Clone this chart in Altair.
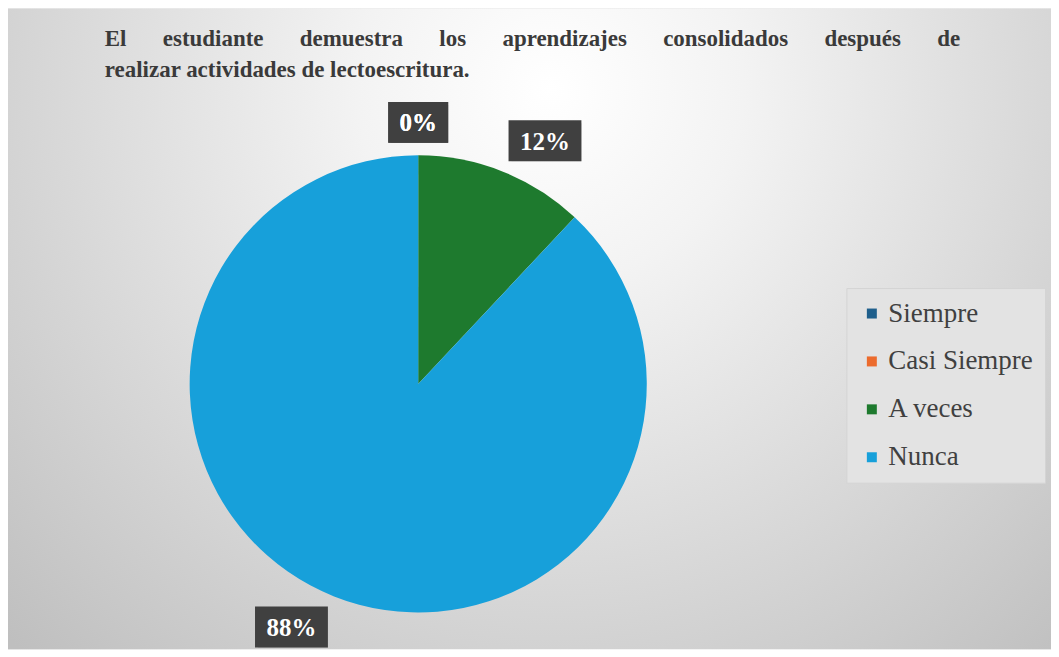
import altair as alt
import pandas as pd

# ---- data ----
categories = ["Siempre", "Casi Siempre", "A veces", "Nunca"]
values = [0, 0, 12, 88]
colors = ["#1f5f8c", "#ec6b2d", "#1e7a2e", "#17a0da"]
GAP = "\u2003\u2002\u200a"
title_words = ["El", "estudiante", "demuestra", "los", "aprendizajes", "consolidados", "después", "de"]
title_lines = [
    GAP.join(title_words),
    "realizar actividades de lectoescritura.",
]

# ---- layout ----
W, H = 1045, 642
CX, CY, R = 411, 376, 229
RX, RY = 345, 262
SERIF = "'Liberation Serif', 'Times New Roman', 'DejaVu Serif', serif"

df = pd.DataFrame({"categoria": categories, "valor": values, "orden": list(range(len(categories)))})

bg = alt.Chart(alt.Data(values=[{"k": 1}])).mark_rect(
    fill=alt.Gradient(
        gradient="radial",
        stops=[
            alt.GradientStop(offset=0, color="#ffffff"),
            alt.GradientStop(offset=0.25, color="#f3f3f3"),
            alt.GradientStop(offset=1, color="#bfbfbf"),
        ],
        x1=0.52, y1=0.27, r1=0,
        x2=0.52, y2=0.27, r2=0.74,
    )
).encode(x=alt.value(0), x2=alt.value(W), y=alt.value(0), y2=alt.value(H))

pie = alt.Chart(df).mark_arc(radius=R).encode(
    theta=alt.Theta("valor:Q", stack=True),
    color=alt.Color(
        "categoria:N",
        sort=categories,
        scale=alt.Scale(domain=categories, range=colors),
        legend=alt.Legend(
            title=None,
            orient="none",
            legendX=840,
            legendY=280,
            symbolType="square",
            symbolSize=100,
            symbolStrokeWidth=0,
            labelFont=SERIF,
            labelFontSize=27,
            labelColor="#404040",
            labelLimit=400,
            labelOffset=3,
            rowPadding=20,
            padding=12,
            fillColor="#e3e3e3",
            strokeColor="#d4d4d4",
        ),
    ),
    order=alt.Order("orden:Q"),
    x=alt.value(CX),
    y=alt.value(CY),
)

lab = alt.Chart(df).transform_joinaggregate(total="sum(valor)").transform_window(
    cum="sum(valor)", sort=[alt.SortField("orden")], frame=[None, 0]
).transform_calculate(
    mid="2*PI*(datum.cum - datum.valor/2)/datum.total"
).transform_calculate(
    lx=f"{CX} + {RX}*sin(datum.mid)",
    ly=f"{CY} - {RY}*cos(datum.mid)",
    txt="round(datum.valor/datum.total*100) + '%'",
).transform_calculate(
    bw="13*length(datum.txt) + 34"
).transform_calculate(
    bx1="datum.lx - datum.bw/2",
    bx2="datum.lx + datum.bw/2",
    by1="datum.ly - 20.5",
    by2="datum.ly + 20.5",
)

shadow = lab.mark_rect(color="#000000", opacity=0.18, xOffset=3, yOffset=3).encode(
    x=alt.X("bx1:Q", scale=None, axis=None), x2="bx2:Q",
    y=alt.Y("by1:Q", scale=None, axis=None), y2="by2:Q",
)
boxes = lab.mark_rect(color="#404040").encode(
    x=alt.X("bx1:Q", scale=None, axis=None), x2="bx2:Q",
    y=alt.Y("by1:Q", scale=None, axis=None), y2="by2:Q",
)
texts = lab.mark_text(
    font=SERIF, fontWeight="bold", fontSize=25, color="#ffffff",
    align="center", baseline="middle", dy=1,
).encode(
    x=alt.X("lx:Q", scale=None, axis=None),
    y=alt.Y("ly:Q", scale=None, axis=None),
    text="txt:N",
)

tdf = pd.DataFrame({"linea": title_lines, "i": [0, 1]})
title = alt.Chart(tdf).transform_calculate(ty="30 + 32*datum.i").mark_text(
    font=SERIF, fontWeight="bold", fontSize=23, color="#3a3a3a",
    align="left", baseline="middle",
).encode(
    x=alt.value(97),
    y=alt.Y("ty:Q", scale=None, axis=None),
    text="linea:N",
)

chart = alt.layer(bg, pie, shadow, boxes, texts, title).properties(
    width=W, height=H, padding=0, autosize="none"
).configure_view(strokeWidth=0)

chart.save("out.html", embed_options={"renderer": "svg", "actions": False})
